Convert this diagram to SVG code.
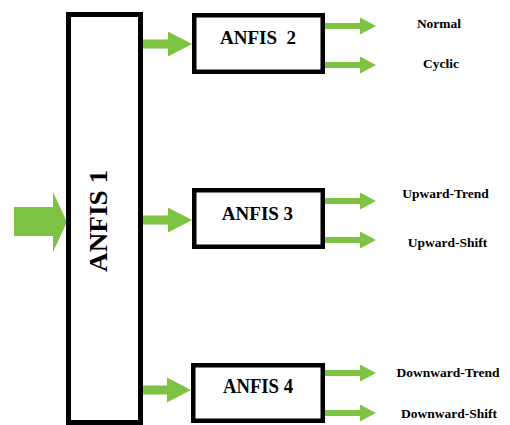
<svg xmlns="http://www.w3.org/2000/svg" xmlns:xlink="http://www.w3.org/1999/xlink" width="510" height="425" viewBox="0 0 510 425">
<style>
.box{fill:#fff;stroke:#000;stroke-width:4.5}
.arr{fill:#7DC242}
.t{font-family:'Liberation Serif','DejaVu Serif',serif;font-weight:700;fill:#000;text-anchor:middle;white-space:pre}
.bt{font-size:19px}
.lb{font-size:13.5px}
</style>
<defs>
<path id="outArrow" d="M0,-3 H35 V-8.5 L51,0 L35,8.5 V3 H0 Z"/>
<path id="inArrow" d="M0,-4.5 H25 V-12.5 L49,0 L25,12.5 V4.5 H0 Z"/>
</defs>
<rect width="510" height="425" fill="#fff"/>
<g id="connectors" class="arr">
<polygon points="14,207 53,207 53,192 67,222 53,252 53,236 14,236"/>
<use xlink:href="#inArrow" x="143" y="44"/>
<use xlink:href="#inArrow" x="143" y="220"/>
<use xlink:href="#inArrow" x="142" y="390"/>
<use xlink:href="#outArrow" x="325" y="26"/>
<use xlink:href="#outArrow" x="325" y="65"/>
<use xlink:href="#outArrow" x="325" y="201"/>
<use xlink:href="#outArrow" x="325" y="240"/>
<use xlink:href="#outArrow" x="325" y="373"/>
<use xlink:href="#outArrow" x="325" y="413"/>
</g>
<g id="anfis1">
<rect class="box" x="68.5" y="14.5" width="72" height="408" style="stroke-width:5"/>
<text class="t" font-size="25" textLength="102" lengthAdjust="spacingAndGlyphs" transform="translate(107,221) rotate(-90)">ANFIS 1</text>
</g>
<g id="anfis2">
<rect class="box" x="194.25" y="15.25" width="128.5" height="56.5"/>
<text class="t bt" x="258" y="44">ANFIS  2</text>
</g>
<g id="anfis3">
<rect class="box" x="194.25" y="190.25" width="128.5" height="56.5"/>
<text class="t bt" x="257.5" y="220">ANFIS 3</text>
</g>
<g id="anfis4">
<rect class="box" x="193.25" y="365.25" width="129.5" height="55.5"/>
<text class="t" font-size="20" x="258" y="393" textLength="70" lengthAdjust="spacingAndGlyphs">ANFIS 4</text>
</g>
<g id="out-normal"><text class="t lb" x="439" y="28">Normal</text></g>
<g id="out-cyclic"><text class="t lb" x="441" y="68">Cyclic</text></g>
<g id="out-upward-trend"><text class="t lb" x="445.5" y="198">Upward-Trend</text></g>
<g id="out-upward-shift"><text class="t lb" x="447.5" y="247">Upward-Shift</text></g>
<g id="out-downward-trend"><text class="t lb" x="448" y="377">Downward-Trend</text></g>
<g id="out-downward-shift"><text class="t lb" x="449" y="418">Downward-Shift</text></g>
</svg>
